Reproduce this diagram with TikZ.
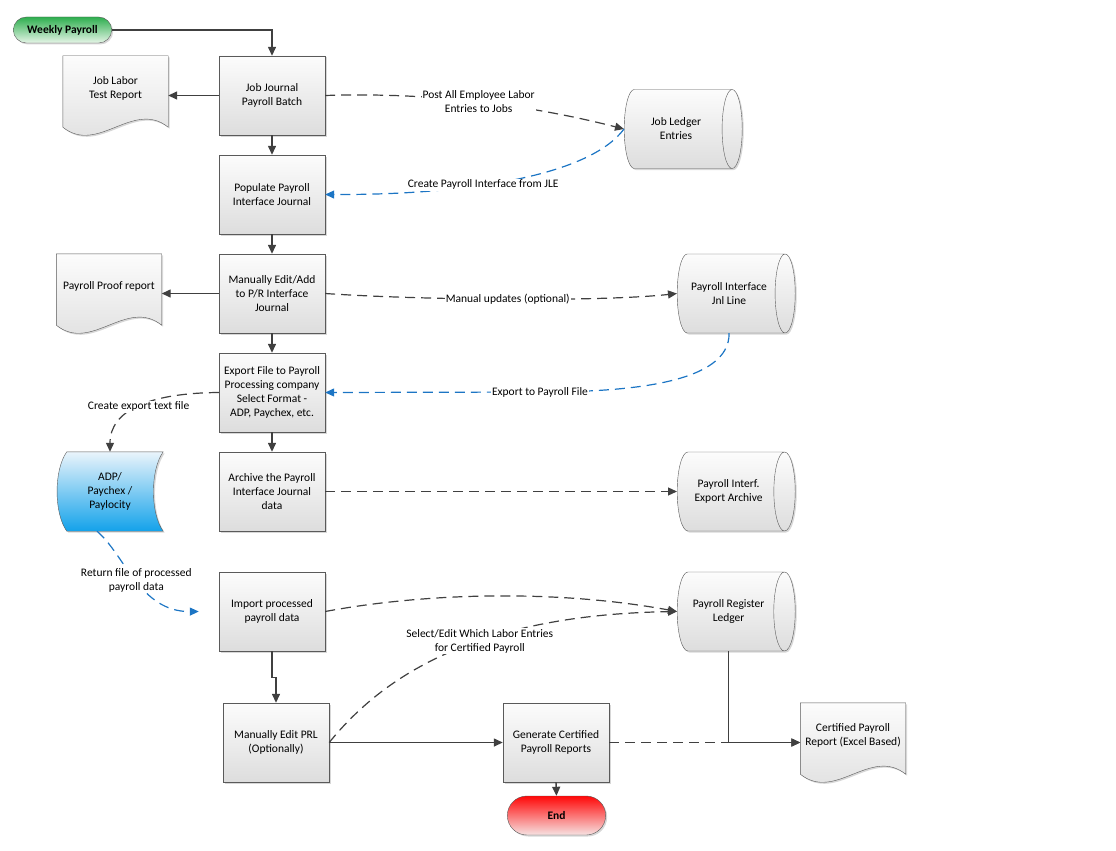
\documentclass[tikz,border=0pt]{standalone}
\usepackage{fontspec}
\setmainfont{Carlito}
\usetikzlibrary{arrows.meta,shapes.geometric,shapes.misc,calc,backgrounds,shadows}

\definecolor{rimgray}{HTML}{5A5A5A}
\definecolor{linegray}{HTML}{404040}
\definecolor{flowblue}{HTML}{1C75C4}
\definecolor{boxtop}{HTML}{FCFCFC}
\definecolor{boxbot}{HTML}{DDDDDD}
\definecolor{gotop}{HTML}{2EAE4E}
\definecolor{gobot}{HTML}{E6F5E8}
\definecolor{stoptop}{HTML}{FF0808}
\definecolor{stopbot}{HTML}{F6E2E2}
\definecolor{adptop}{HTML}{EAF4FB}
\definecolor{adpbot}{HTML}{13A2EA}

\tikzset{
  txt/.style={font=\fontsize{11.5}{14}\selectfont, align=center},
  softshadow/.style={drop shadow={shadow xshift=1.5pt, shadow yshift=-1.5pt, fill=black!35, opacity=0.45}},
  proc/.style={txt, draw=rimgray, rectangle, minimum width=106pt, minimum height=79pt,
    top color=boxtop, bottom color=boxbot, softshadow},
  term/.style={txt, font=\fontsize{11.5}{14}\selectfont\bfseries, draw=rimgray, rounded rectangle,
    minimum width=105pt, softshadow},
  store/.style={txt, draw=rimgray, cylinder, shape border rotate=0, aspect=0.7, anchor=west,
    minimum width=79pt, minimum height=118pt, top color=boxtop, bottom color=boxbot, softshadow},
  docu/.style={txt, minimum width=105pt, minimum height=64pt},
  adpbox/.style={txt, minimum width=106pt, minimum height=79pt},
  link/.style={draw=linegray, line width=1.4pt, -{Triangle[length=9pt,width=8pt]}},
  dlink/.style={link, line width=1.2pt, dash pattern=on 10pt off 6pt},
  blink/.style={dlink, draw=flowblue, -{Triangle[length=9pt,width=8pt,fill=flowblue]}},
  lbl/.style={txt, fill=white, inner sep=1pt},
}

\begin{document}
\begin{tikzpicture}[x=1pt, y=-1pt]
    \useasboundingbox (0,0) rectangle (1116,851);

    % Start and end
    \node[term, top color=gotop, bottom color=gobot, minimum height=26pt] (wp) at (62.5,30) {Weekly Payroll};
    \node[term, top color=stoptop, bottom color=stopbot, minimum height=39pt] (fin) at (556.5,815.5) {End};

    % Process steps
    \node[proc] (jj) at (272,95.5) {Job Journal\\Payroll Batch};
    \node[proc] (ppij) at (272,194.5) {Populate Payroll\\Interface Journal};
    \node[proc] (mea) at (272,293.5) {Manually Edit/Add\\to P/R Interface\\Journal};
    \node[proc] (ef) at (272,392.5) {Export File to Payroll\\Processing company\\Select Format -\\ADP, Paychex, etc.};
    \node[proc] (arch) at (272,491.5) {Archive the Payroll\\Interface Journal\\data};
    \node[proc] (imp) at (272,611.5) {Import processed\\payroll data};
    \node[proc] (mep) at (276,742.5) {Manually Edit PRL\\(Optionally)};
    \node[proc] (gcp) at (556,742.5) {Generate Certified\\Payroll Reports};

    % Reports
    \node[docu] (jlr) at (115.5,88) {Job Labor\\Test Report};
    \node[docu] (ppr) at (109,286) {Payroll Proof report};
    \node[docu] (cpr) at (853,735) {Certified Payroll\\Report (Excel Based)};

    % Stored data
    \node[store] (jle) at (624,129) {Job Ledger\\Entries};
    \node[store] (pijl) at (677,293.5) {Payroll Interface\\Jnl Line};
    \node[store] (pea) at (677,491.5) {Payroll Interf.\\Export Archive};
    \node[store] (prl) at (677,611.5) {Payroll Register\\Ledger};
    \node[adpbox] (adp) at (110,491.5) {ADP/\\Paychex /\\Paylocity};

    % Outlines behind the text
    \begin{pgfonlayer}{background}
        \foreach \d in {jlr,ppr,cpr}
            \draw[draw=rimgray, top color=boxtop, bottom color=boxbot, softshadow]
                (\d.north west) -- (\d.north east) -- ($(\d.south east)+(0,7)$)
                .. controls ($(\d.south east)+(-35,-21)$) and ($(\d.south west)+(35,35)$)
                .. ($(\d.south west)+(0,7)$) -- cycle;
        \draw[draw=rimgray, top color=adptop, bottom color=adpbot, softshadow]
            ($(adp.north west)+(10,0)$) -- (adp.north east)
            .. controls ($(adp.north east)+(-13,18)$) and ($(adp.south east)+(-13,-18)$) .. (adp.south east)
            -- ($(adp.south west)+(10,0)$)
            .. controls ($(adp.south west)+(-3,-18)$) and ($(adp.north west)+(-3,18)$) .. ($(adp.north west)+(10,0)$)
            -- cycle;
    \end{pgfonlayer}

    % Main flow
    \draw[link] (wp.east) -| (jj.north);
    \draw[link] (jj.west) -- (jj.west -| jlr.east);
    \foreach \a/\b in {jj/ppij, ppij/mea, mea/ef, ef/arch}
        \draw[link] (\a.south) -- (\b.north);
    \draw[link] (mea.west) -- (mea.west -| ppr.east);
    \draw[link] (imp.south) -- ++(0,26) -| (mep.north);
    \draw[link] (mep.east) -- (gcp.west);
    \draw[link] (gcp.south) -- (fin.north);
    \draw[link] (prl.south) |- (gcp.east -| cpr.west);

    % Ledger traffic
    \draw[dlink] (jj.east) .. controls (430,92) and (530,105) .. (jle.west)
        node[lbl, pos=0.5] {Post All Employee Labor\\Entries to Jobs};
    \draw[blink] (jle.west) .. controls (590,175) and (470,195) .. (ppij.east)
        node[lbl, pos=0.6] {Create Payroll Interface from JLE};
    \draw[dlink] (mea.east) .. controls (420,300) and (600,302) .. (pijl.west)
        node[lbl, pos=0.5] {Manual updates (optional)};
    \draw[blink] (pijl.south) .. controls (730,383) and (630,392) .. (540,392)
        node[lbl] {Export to Payroll File} -- (ef.east);
    \draw[dlink] (ef.west) .. controls (150,393) and (110,410) .. (adp.north)
        node[lbl, pos=0.5] {Create export text file};
    \draw[dlink] (arch.east) -- (pea.west);
    \draw[blink] ([xshift=-13pt]adp.south) .. controls (125,555) and (140,612) .. ([xshift=-20pt]imp.west)
        node[lbl, pos=0.5] {Return file of processed\\payroll data};
    \draw[dlink] (imp.east) .. controls (430,592) and (560,590) .. (prl.west);
    \draw[dlink] (mep.east) .. controls (380,680) and (470,615) .. (prl.west)
        node[lbl, pos=0.6] {Select/Edit Which Labor Entries\\for Certified Payroll};
    \draw[dlink] (gcp.east) -- (gcp.east -| cpr.west);

\end{tikzpicture}
\end{document}
